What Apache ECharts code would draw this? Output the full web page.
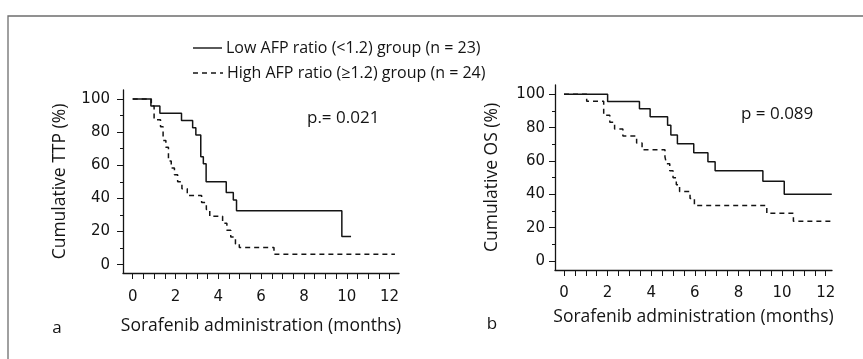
<!DOCTYPE html>
<html>
<head>
<meta charset="utf-8">
<script src="https://cdn.jsdelivr.net/npm/echarts@6/dist/echarts.min.js"></script>
<style>
  html, body { margin: 0; padding: 0; background: #fff; }
  #chart { width: 863px; height: 359px; }
</style>
</head>
<body>
<div id="chart"></div>
<script>
// Kaplan-Meier step curves: months since start of sorafenib, cumulative percentage
const ttpLowMonths  = [0, 0.85, 1.27, 2.28, 2.8, 2.95, 3.18, 3.3, 3.43, 4.37, 4.7, 4.85, 9.77, 10.2];
const ttpLowPct     = [100, 95.7, 91.3, 87, 82.6, 78.3, 65.2, 60.9, 50, 43.5, 39.1, 32.6, 17, 17];

const ttpHighMonths = [0, 0.87, 1.0, 1.3, 1.42, 1.55, 1.67, 1.8, 1.95, 2.1, 2.3, 2.55, 3.22, 3.44, 3.6,
                       4.2, 4.4, 4.58, 4.8, 4.98, 6.6, 12.25];
const ttpHighPct    = [100, 95.8, 87.5, 83.3, 75, 70.8, 62.5, 58.3, 54.2, 50, 45.8, 41.7, 37.5, 33.3, 29.2,
                       25, 20.8, 16.7, 12.5, 10.4, 6.3, 6.3];

const osLowMonths   = [0, 2.0, 3.46, 3.95, 4.75, 4.9, 5.2, 5.95, 6.6, 6.93, 9.12, 10.1, 12.28];
const osLowPct      = [100, 95.7, 91.3, 86.5, 81.5, 75.6, 70.4, 65, 59.6, 54.2, 47.8, 40, 40];

const osHighMonths  = [0, 1.04, 1.82, 2.1, 2.32, 2.7, 3.33, 3.58, 4.63, 4.7, 4.85, 5.0, 5.15, 5.3,
                       5.78, 5.98, 9.3, 10.52, 12.28];
const osHighPct     = [100, 95.8, 87.5, 83.3, 79.2, 75, 70.8, 66.7, 62.5, 58.3, 54.2, 50, 45.8, 41.7,
                       37.5, 33.3, 28.6, 23.8, 23.8];

// Axis ticks and labels
const monthLabels   = [0, 2, 4, 6, 8, 10, 12];
const monthTicks    = [0, 0.5, 1, 1.5, 2, 2.5, 3, 3.5, 4, 4.5, 5, 5.5, 6, 6.5, 7, 7.5, 8, 8.5, 9, 9.5,
                       10, 10.5, 11, 11.5, 12];
const pctLabels     = [0, 20, 40, 60, 80, 100];
const pctMinorTicks = [10, 30, 50, 70, 90];

// Text
const groupNames = ['Low AFP ratio (<1.2) group (n = 23)', 'High AFP ratio (\u22651.2) group (n = 24)'];
const pValues    = ['p.= 0.021', 'p = 0.089'];
const yNames     = ['Cumulative TTP (%)', 'Cumulative OS (%)'];
const xName      = 'Sorafenib administration (months)';
const panelTags  = ['a', 'b'];

const FONT = '"Open Sans", "Noto Sans", sans-serif';
const NUM_FONT = '"DejaVu Sans", "Open Sans", sans-serif';
const INK = '#141414';
const DASH = [5, 4];

const pairs = (xs, ys) => xs.map((x, i) => [x, ys[i]]);

function xAxisFor(gridIndex, min, max, labelMargin, nameGap) {
  return {
    type: 'value', gridIndex, min, max, position: 'bottom',
    axisLine: { show: true, onZero: false, lineStyle: { color: INK, width: 1.3 } },
    axisTick: { show: true, customValues: monthTicks, length: 6, inside: false,
                lineStyle: { color: INK, width: 1 } },
    axisLabel: { customValues: monthLabels, margin: labelMargin, color: INK, fontFamily: NUM_FONT, fontSize: 15 },
    splitLine: { show: false },
    name: xName, nameLocation: 'middle', nameGap,
    nameTextStyle: { color: INK, fontFamily: FONT, fontSize: 17.5 }
  };
}

function yAxisFor(gridIndex, min, max, name, nameGap, labelMargin) {
  return {
    type: 'value', gridIndex, min, max, position: 'left', offset: 0,
    axisLine: { show: true, onZero: false, lineStyle: { color: INK, width: 1.3 } },
    axisTick: { show: true, customValues: pctLabels, length: 6, lineStyle: { color: INK, width: 1 } },
    axisLabel: { customValues: pctLabels, margin: labelMargin, color: INK, fontFamily: NUM_FONT, fontSize: 15 },
    splitLine: { show: false },
    name, nameLocation: 'middle', nameGap, nameRotate: 90,
    nameTextStyle: { color: INK, fontFamily: FONT, fontSize: 17.5 }
  };
}

// second axis on the same side, used only for the short intermediate ticks
function yMinorFor(gridIndex, min, max) {
  return {
    type: 'value', gridIndex, min, max, position: 'left', offset: 0,
    axisLine: { show: false, onZero: false },
    axisTick: { show: true, customValues: pctMinorTicks, length: 3, lineStyle: { color: INK, width: 1 } },
    axisLabel: { show: false },
    splitLine: { show: false }
  };
}

function kmSeries(data, xi, yi, dashed) {
  return {
    type: 'line', step: 'end', xAxisIndex: xi, yAxisIndex: yi,
    data, symbol: 'none', silent: true, animation: false,
    lineStyle: { color: INK, width: 1.5, type: dashed ? DASH : 'solid' }
  };
}

const chart = echarts.init(document.getElementById('chart'), null, { renderer: 'canvas' });

chart.setOption({
  backgroundColor: '#fff',
  animation: false,
  grid: [
    { left: 123, top: 90, width: 276, height: 183 },
    { left: 555, top: 85, width: 277, height: 185 }
  ],
  xAxis: [
    xAxisFor(0, -0.453, 12.44, 17, 44),
    xAxisFor(1, -0.413, 12.29, 16, 38)
  ],
  yAxis: [
    yAxisFor(0, -5.0, 105.4, yNames[0], 54, 13),
    yAxisFor(1, -5.4, 105.6, yNames[1], 54, 10),
    yMinorFor(0, -5.0, 105.4),
    yMinorFor(1, -5.4, 105.6)
  ],
  series: [
    kmSeries(pairs(ttpLowMonths, ttpLowPct), 0, 0, false),
    kmSeries(pairs(ttpHighMonths, ttpHighPct), 0, 0, true),
    kmSeries(pairs(osLowMonths, osLowPct), 1, 1, false),
    kmSeries(pairs(osHighMonths, osHighPct), 1, 1, true)
  ],
  graphic: [
    // figure frame
    { type: 'rect', shape: { x: 8, y: 16, width: 900, height: 400 }, silent: true,
      style: { fill: null, stroke: '#6e6e6e', lineWidth: 1.3 } },
    // legend
    { type: 'line', shape: { x1: 193, y1: 48, x2: 222, y2: 48 }, silent: true,
      style: { stroke: INK, lineWidth: 1.4 } },
    { type: 'text', x: 226, y: 48, silent: true,
      style: { text: groupNames[0], fill: INK, font: '16px ' + FONT, textVerticalAlign: 'middle' } },
    { type: 'line', shape: { x1: 193, y1: 73, x2: 223, y2: 73 }, silent: true,
      style: { stroke: INK, lineWidth: 1.4, lineDash: DASH } },
    { type: 'text', x: 227, y: 73, silent: true,
      style: { text: groupNames[1], fill: INK, font: '16px ' + FONT, textVerticalAlign: 'middle' } },
    // p-values
    { type: 'text', x: 307, y: 118, silent: true,
      style: { text: pValues[0], fill: INK, font: '17px ' + FONT, textVerticalAlign: 'middle' } },
    { type: 'text', x: 741, y: 114, silent: true,
      style: { text: pValues[1], fill: INK, font: '17px ' + FONT, textVerticalAlign: 'middle' } },
    // panel tags
    { type: 'text', x: 57, y: 328, silent: true,
      style: { text: panelTags[0], fill: INK, font: '17px ' + FONT, textAlign: 'center', textVerticalAlign: 'middle' } },
    { type: 'text', x: 492, y: 324, silent: true,
      style: { text: panelTags[1], fill: INK, font: '17px ' + FONT, textAlign: 'center', textVerticalAlign: 'middle' } }
  ]
});
</script>
</body>
</html>
